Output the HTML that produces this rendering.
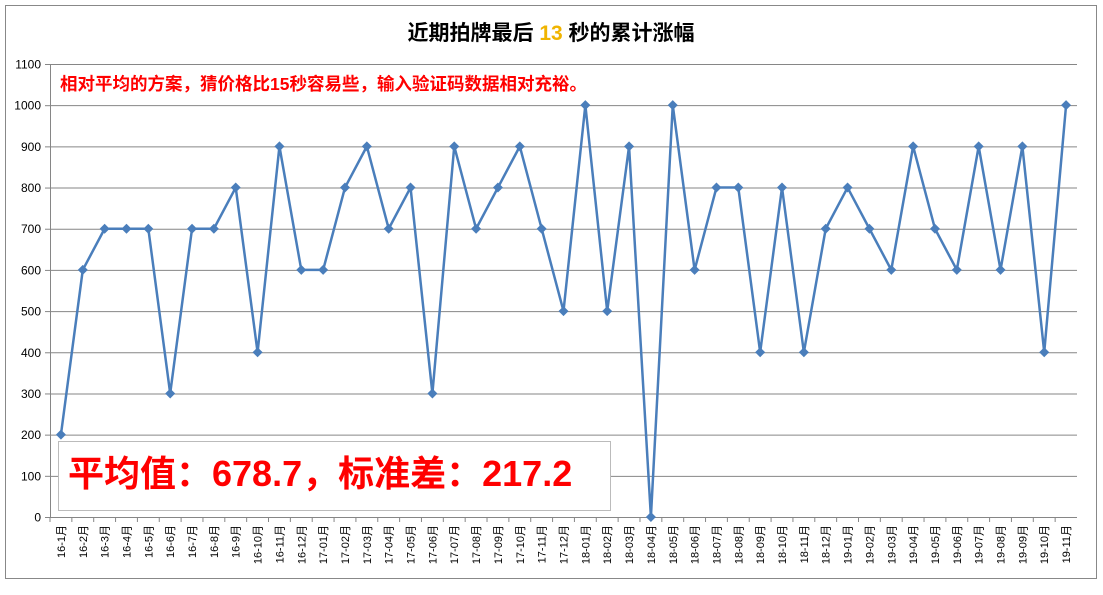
<!DOCTYPE html>
<html><head><meta charset="utf-8"><style>
body{margin:0;background:#fff;}
svg text{font-family:"Liberation Sans","Noto Sans CJK SC",sans-serif;}
</style></head><body>
<svg width="1103" height="590" xmlns="http://www.w3.org/2000/svg" id="chart">
<rect x="5.5" y="5.5" width="1091" height="573" fill="#fff" stroke="#888"/>
<text x="551" y="40" text-anchor="middle" font-size="21" font-weight="bold" fill="#000">近期拍牌最后 <tspan fill="#f0b400">13</tspan> 秒的累计涨幅</text>
<g id="grid"></g>
<g id="yaxis"></g>
<g id="xaxis"></g>
<text x="60" y="90" font-size="17.5" font-weight="bold" fill="#f00">相对平均的方案，猜价格比15秒容易些，输入验证码数据相对充裕。</text>
<rect x="58.5" y="441.5" width="552" height="69" fill="#fff" stroke="#bbb"/>
<text x="68" y="486" font-size="36" font-weight="bold" fill="#f00" font-family="'Liberation Serif','Noto Serif CJK SC',serif">平均值：<tspan font-family="'Liberation Sans',sans-serif">678.7</tspan>，标准差：<tspan font-family="'Liberation Sans',sans-serif">217.2</tspan></text>
<g id="series"></g>
</svg>
<script>
const categories=["16-1月","16-2月","16-3月","16-4月","16-5月","16-6月","16-7月","16-8月","16-9月","16-10月","16-11月","16-12月","17-01月","17-02月","17-03月","17-04月","17-05月","17-06月","17-07月","17-08月","17-09月","17-10月","17-11月","17-12月","18-01月","18-02月","18-03月","18-04月","18-05月","18-06月","18-07月","18-08月","18-09月","18-10月","18-11月","18-12月","19-01月","19-02月","19-03月","19-04月","19-05月","19-06月","19-07月","19-08月","19-09月","19-10月","19-11月"];
const values=[200,600,700,700,700,300,700,700,800,400,900,600,600,800,900,700,800,300,900,700,800,900,700,500,1000,500,900,0,1000,600,800,800,400,800,400,700,800,700,600,900,700,600,900,600,900,400,1000];
const yTicks=[0,100,200,300,400,500,600,700,800,900,1000,1100];
const NS="http://www.w3.org/2000/svg";
const L=50,R=1077,T=64,B=517,yMax=1100;
const bw=(R-L)/categories.length;
const x=i=>L+bw*(i+0.5);
const y=v=>B-(v/yMax)*(B-T);
function mk(tag,attrs,parent){const e=document.createElementNS(NS,tag);for(const k in attrs)e.setAttribute(k,attrs[k]);parent.appendChild(e);return e;}
const grid=document.getElementById('grid'),ya=document.getElementById('yaxis'),xa=document.getElementById('xaxis'),ser=document.getElementById('series');
yTicks.forEach(t=>{
  if(t>0){const g=mk('line',{x1:L,x2:R,y1:y(t)+0.5,y2:y(t)+0.5,stroke:'#868686','stroke-width':1},grid);
  
  }
  const tk=mk('line',{x1:L-5,x2:L,y1:y(t)+0.5,y2:y(t)+0.5,stroke:'#868686'},ya);
  
  
  const tx=mk('text',{x:L-9,y:y(t)+4.5,'text-anchor':'end','font-size':12,fill:'#000'},ya);
  tx.textContent=t;
  
  
});
const ax=mk('line',{x1:L+0.5,x2:L+0.5,y1:T,y2:B,stroke:'#868686'},ya);


const bx=mk('line',{x1:L,x2:R,y1:B+0.5,y2:B+0.5,stroke:'#868686'},xa);


categories.forEach((c,i)=>{
  const tk=mk('line',{x1:L+bw*i,x2:L+bw*i,y1:B,y2:B+5,stroke:'#868686'},xa);
  
  
  const tx=mk('text',{x:0,y:0,'text-anchor':'end','font-size':11,fill:'#000',transform:`translate(${x(i)+4},${B+8}) rotate(-90)`},xa);
  tx.textContent=c;
  
  
});
const pl=mk('polyline',{points:values.map((v,i)=>x(i)+','+y(v)).join(' '),fill:'none',stroke:'#4a7ebb','stroke-width':2.5,'stroke-linejoin':'round'},ser);


values.forEach((v,i)=>{
  const cx=x(i),cy=y(v);
  const m=mk('polygon',{points:`${cx},${cy-5} ${cx+5},${cy} ${cx},${cy+5} ${cx-5},${cy}`,fill:'#4a7ebb'},ser);
  
  
});
</script>
</body></html>
